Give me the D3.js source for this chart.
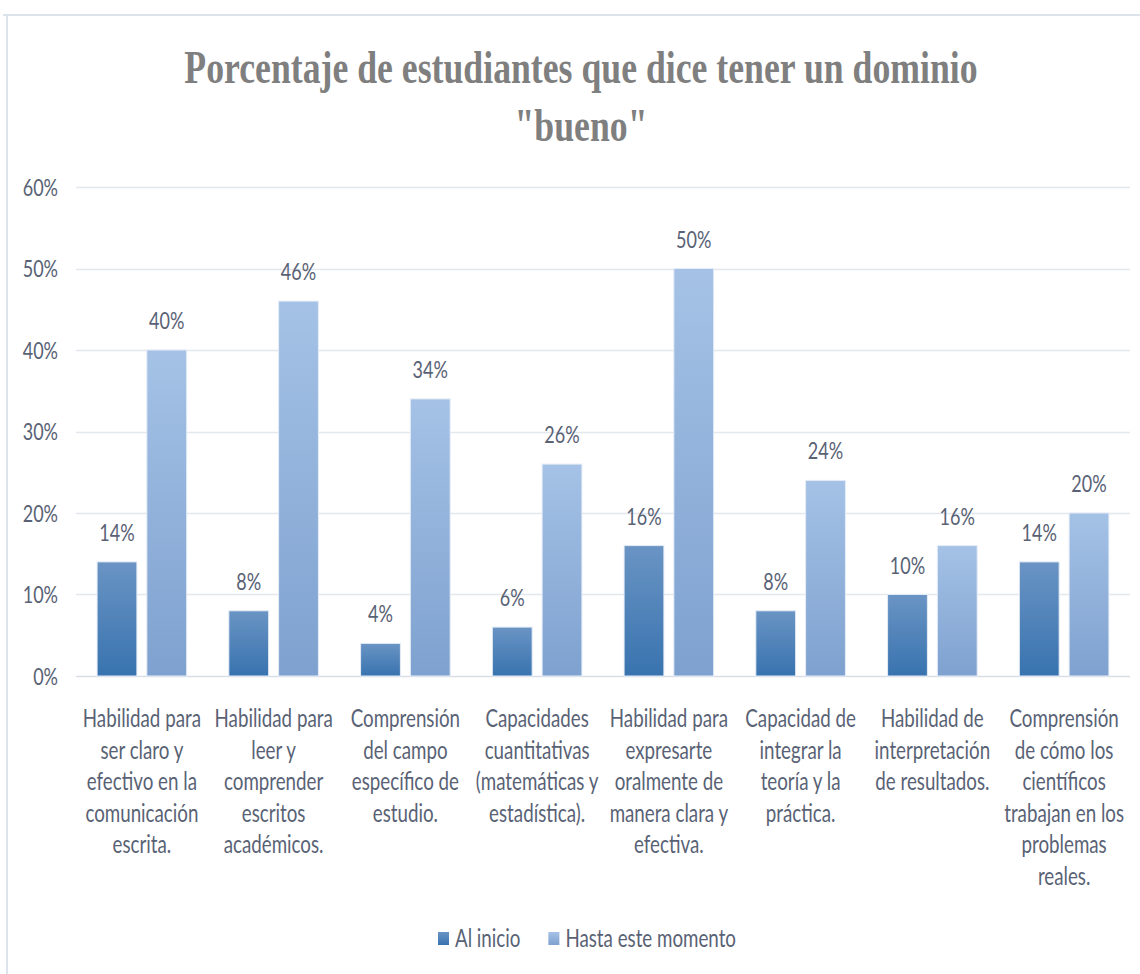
<!DOCTYPE html>
<html>
<head>
<meta charset="utf-8">
<script src="https://cdn.jsdelivr.net/npm/d3@7"></script>
<style>
  html, body { margin: 0; padding: 0; background: #fff; }
  svg { display: block; }
</style>
</head>
<body>
<script>
// chart values
var categoryLabels = [
  ["Habilidad para", "ser claro y", "efectivo en la", "comunicación", "escrita."],
  ["Habilidad para", "leer y", "comprender", "escritos", "académicos."],
  ["Comprensión", "del campo", "específico de", "estudio."],
  ["Capacidades", "cuantitativas", "(matemáticas y", "estadística)."],
  ["Habilidad para", "expresarte", "oralmente de", "manera clara y", "efectiva."],
  ["Capacidad de", "integrar la", "teoría y la", "práctica."],
  ["Habilidad de", "interpretación", "de resultados."],
  ["Comprensión", "de cómo los", "científicos", "trabajan en los", "problemas", "reales."]
];
var seriesNames = ["Al inicio", "Hasta este momento"];
var alInicio = [0.14, 0.08, 0.04, 0.06, 0.16, 0.08, 0.10, 0.14];
var hastaEsteMomento = [0.40, 0.46, 0.34, 0.26, 0.50, 0.24, 0.16, 0.20];
var yTicks = [0, 0.1, 0.2, 0.3, 0.4, 0.5, 0.6];
var titleLines = ["Porcentaje de estudiantes que dice tener un dominio", "\"bueno\""];

var W = 1140, H = 974;
var margin = {top: 187, right: 10, bottom: 298, left: 76};
var textColor = "#596275";
var sx = 0.75;        // the picture's text is squeezed horizontally
var sansFont = "Lato, 'Open Sans', sans-serif";

var svg = d3.select("body").append("svg")
    .attr("width", W).attr("height", H);

var defs = svg.append("defs");
function gradient(id, top, bottom) {
  var g = defs.append("linearGradient").attr("id", id)
      .attr("x1", 0).attr("y1", 0).attr("x2", 0).attr("y2", 1);
  g.append("stop").attr("offset", "0%").attr("stop-color", top);
  g.append("stop").attr("offset", "100%").attr("stop-color", bottom);
}
gradient("gradA", "#6a94c4", "#3873af");
gradient("gradB", "#a5c2e6", "#7ea1cf");
var fills = ["url(#gradA)", "url(#gradB)"];

// chart frame
svg.append("line").attr("x1", 3).attr("x2", W).attr("y1", 15).attr("y2", 15)
    .attr("stroke", "#dde3ea").attr("stroke-width", 2);
svg.append("line").attr("x1", 7).attr("x2", 7).attr("y1", 15).attr("y2", H)
    .attr("stroke", "#dde3ea").attr("stroke-width", 2);

// squeezed text helper
function sText(parent, x, y, str, anchor, size) {
  var t = parent.append("text")
      .attr("transform", "translate(" + x + "," + y + ") scale(" + sx + ",1)")
      .attr("text-anchor", anchor)
      .style("font-family", sansFont)
      .style("font-size", size + "px")
      .attr("fill", textColor)
      .text(str);
  return t;
}

// title
titleLines.forEach(function(line, i) {
  svg.append("text")
    .attr("transform", "translate(581," + (83 + i * 58) + ") scale(0.76,1)")
    .attr("text-anchor", "middle")
    .style("font-family", "'Liberation Serif', 'Times New Roman', serif")
    .style("font-weight", "bold")
    .style("font-size", "47px")
    .attr("fill", "#7f7f7f")
    .text(line);
});

var plotBottom = H - margin.bottom;

var idx = d3.range(categoryLabels.length);
var x0 = d3.scaleBand().domain(idx).range([margin.left, margin.left + 1054]).padding(0);
var x1 = d3.scaleBand().domain([0, 1])
    .range([x0.bandwidth() * 0.16, x0.bandwidth() * 0.84]).paddingInner(0.2);
var y = d3.scaleLinear().domain([0, 0.6]).range([plotBottom, margin.top]);

// gridlines
svg.append("g").selectAll("line").data(yTicks).enter().append("line")
    .attr("x1", margin.left).attr("x2", margin.left + 1054)
    .attr("y1", function(d) { return Math.round(y(d)) + 0.5; })
    .attr("y2", function(d) { return Math.round(y(d)) + 0.5; })
    .attr("stroke", function(d) { return d === 0 ? "#d9dee6" : "#e3e7ee"; })
    .attr("stroke-width", 1.5);

// y tick labels
var fmt = d3.format(".0%");
var yAxisG = svg.append("g");
yTicks.forEach(function(d) {
  sText(yAxisG, 58, y(d), fmt(d), "end", 24).attr("dy", "0.36em");
});

// bars
var series = [alInicio, hastaEsteMomento];
var groups = svg.append("g").selectAll("g").data(idx).enter().append("g")
    .attr("transform", function(i) { return "translate(" + x0(i) + ",0)"; });

groups.selectAll("rect").data(function(i) {
    return series.map(function(s, k) { return {k: k, v: s[i]}; });
  }).enter().append("rect")
    .attr("x", function(d) { return x1(d.k); })
    .attr("width", x1.bandwidth())
    .attr("y", function(d) { return y(d.v); })
    .attr("height", function(d) { return plotBottom - y(d.v); })
    .attr("fill", function(d) { return fills[d.k]; })
    .attr("stroke", "#e4ecf6").attr("stroke-width", 1);

// value labels
groups.each(function(i) {
  var g = d3.select(this);
  series.forEach(function(s, k) {
    sText(g, x1(k) + x1.bandwidth() / 2, y(s[i]) - 21, fmt(s[i]), "middle", 24);
  });
});

// category labels
groups.each(function(i) {
  var g = d3.select(this);
  categoryLabels[i].forEach(function(line, j) {
    sText(g, x0.bandwidth() / 2, 727 + j * 31.6, line, "middle", 25);
  });
});

// legend
var legend = svg.append("g");
var lx = 438;
seriesNames.forEach(function(name, k) {
  legend.append("rect").attr("x", lx).attr("y", 932).attr("width", 11).attr("height", 13)
    .attr("fill", fills[k]);
  var t = sText(legend, lx + 17, 947, name, "start", 25);
  lx += 17 + t.node().getComputedTextLength() * sx + 28;
});
</script>
</body>
</html>
